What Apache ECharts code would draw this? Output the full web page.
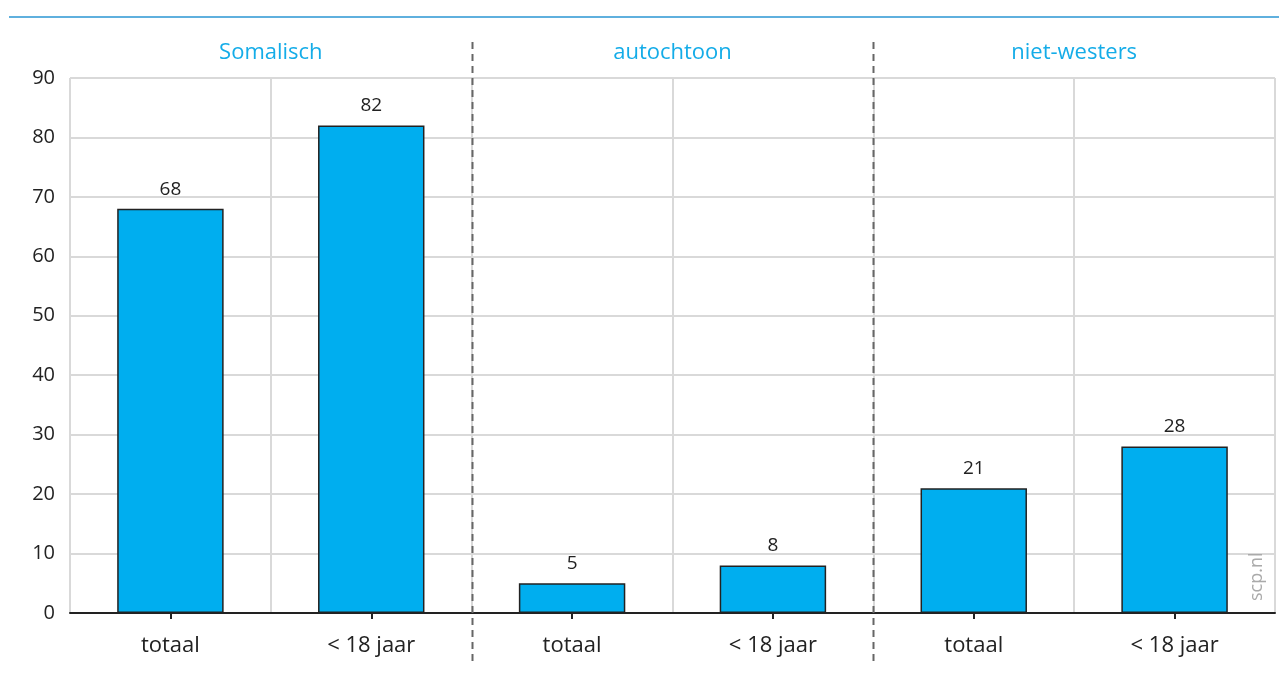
<!DOCTYPE html>
<html><head><meta charset="utf-8">
<script src="https://cdn.jsdelivr.net/npm/echarts@6/dist/echarts.min.js"></script>
<style>html,body{margin:0;padding:0;background:#fff}#c{width:1279px;height:684px}</style>
</head><body><div id="c"></div>
<script>
const categories = ['totaal', '< 18 jaar', 'totaal', '< 18 jaar', 'totaal', '< 18 jaar'];
const groups = ['Somalisch', 'autochtoon', 'niet-westers'];
const values = [68, 82, 5, 8, 21, 28];
const yTicks = [0, 10, 20, 30, 40, 50, 60, 70, 80, 90];

const FONT = '"Open Sans", sans-serif';
const chart = echarts.init(document.getElementById('c'));
chart.setOption({
  animation: false,
  grid: { left: 70, right: 4, top: 78, bottom: 71, containLabel: false },
  xAxis: [{
    type: 'category', data: categories, position: 'bottom',
    axisLine: { lineStyle: { color: '#222', width: 2 } },
    axisTick: { show: true, alignWithLabel: true, length: 6, lineStyle: { color: '#222', width: 2 } },
    axisLabel: { color: '#222', fontSize: 22, fontFamily: FONT, margin: 22, interval: 0 },
    splitLine: { show: true, showMinLine: true, showMaxLine: true, lineStyle: { color: '#d9d9d9', width: 2 } }
  }, {
    type: 'category', data: groups, position: 'top',
    axisLine: { show: false }, axisTick: { show: false }, splitLine: { show: false },
    axisLabel: { color: '#14ace8', fontSize: 22, fontFamily: FONT, margin: 14, interval: 0 }
  }],
  yAxis: {
    type: 'value', min: yTicks[0], max: yTicks[yTicks.length - 1], interval: 10,
    axisLine: { show: false }, axisTick: { show: false },
    axisLabel: { color: '#222', fontSize: 20, fontFamily: FONT, margin: 15 },
    splitLine: { show: true, lineStyle: { color: '#d9d9d9', width: 2 } }
  },
  series: [{
    type: 'bar', data: values, xAxisIndex: 0, barWidth: '53%',
    itemStyle: { color: '#00aeef', borderColor: '#222', borderWidth: 1.5 },
    label: { show: true, position: 'top', distance: 10, color: '#222', fontSize: 19, fontFamily: FONT }
  }]
});

// decorations: separators between groups, top rule, watermark
const g = [];
for (let i = 1; i < groups.length; i++) {
  const a = chart.convertToPixel({ xAxisIndex: 0 }, i * 2 - 1);
  const b = chart.convertToPixel({ xAxisIndex: 0 }, i * 2);
  const x = Math.round((a + b) / 2) + 0.5;
  g.push({ type: 'line', shape: { x1: x, y1: 42, x2: x, y2: 662 }, z: 10,
    style: { stroke: '#666', lineWidth: 2, lineDash: [7, 5] } });
}
g.push({ type: 'line', shape: { x1: 9, y1: 17, x2: 1279, y2: 17 },
  style: { stroke: '#5fb0de', lineWidth: 2 } });
g.push({ type: 'text', x: 1248, y: 601, rotation: Math.PI / 2, z: 10,
  style: { text: 'scp.nl', fill: '#aaa', font: '18px ' + FONT, textAlign: 'left', textVerticalAlign: 'top' } });
chart.setOption({ graphic: g });
</script></body></html>
